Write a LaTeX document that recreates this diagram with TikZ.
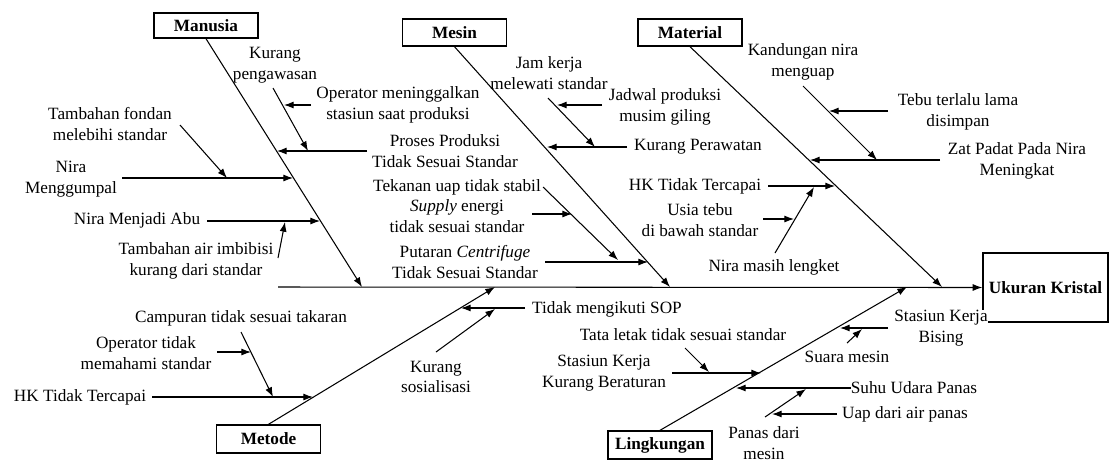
\documentclass[tikz,border=0pt]{standalone}
\usepackage{fontspec}
\setmainfont{Liberation Serif}
\usetikzlibrary{calc}
\usetikzlibrary{arrows.meta}

\tikzset{
    teks/.style={align=center, inner sep=0pt, font=\fontsize{9.8}{11.7}\selectfont},
    kategori/.style={draw, line width=0.8pt, minimum width=2.08cm, minimum height=0.54cm, inner sep=0pt, font=\fontsize{9.8}{11.7}\selectfont\bfseries},
    panah/.style={-{Latex[length=5.5pt,width=4pt]}, line width=0.6pt}
}

\begin{document}
\begin{tikzpicture}[x=0.02cm, y=-0.02cm]
    \useasboundingbox (0,0) rectangle (1115,461);

    % kotak akibat dan kotak kategori
    \node[kategori, minimum width=2.5cm, minimum height=1.38cm] (ukuran) at (1045.5,287.5) {Ukuran Kristal};
    \node[kategori, minimum height=0.5cm] (manusia) at (206,25.5) {Manusia};
    \node[kategori] (mesin) at (454.5,32.5) {Mesin};
    \node[kategori] (material) at (690,32.5) {Material};
    \node[kategori, minimum height=0.56cm] (metode) at (268.5,439) {Metode};
    \node[kategori, minimum height=0.56cm] (lingkungan) at (660,445) {Lingkungan};

    % titik-titik tulang utama
    \coordinate (ekor) at (278,287);
    \coordinate (ujungManusia) at (362,287);
    \coordinate (ujungMesin) at (670,287);
    \coordinate (ujungMaterial) at (942,287);
    \coordinate (ujungMetode) at (495,287);
    \coordinate (ujungLingkungan) at (907,287);

    % pembuatan tulang utama
    \draw[panah] (ekor) -- (ukuran.west);
    \draw[panah] (manusia.south) -- (ujungManusia);
    \draw[panah] (mesin.south) -- (ujungMesin);
    \draw[panah] (material.south) -- (ujungMaterial);
    \draw[panah] (metode.north) -- (ujungMetode);
    \draw[panah] (lingkungan.north) -- (ujungLingkungan);

    % sebab-sebab manusia
    \node[teks] (pengawasan) at (275,65) {Kurang\\pengawasan};
    \node[teks] (meninggalkan) at (398,105) {Operator meninggalkan\\stasiun saat produksi};
    \node[teks] (fondan) at (110,124) {Tambahan fondan\\melebihi standar};
    \node[teks] (menggumpal) at (71,179) {Nira\\Menggumpal};
    \node[teks] (abu) at (137,220) {Nira Menjadi Abu};
    \node[teks] (imbibisi) at (196,261) {Tambahan air imbibisi\\kurang dari standar};
    \node[teks] (proses) at (445,151) {Proses Produksi\\Tidak Sesuai Standar};
    \coordinate (prosesA) at (367,151);       \coordinate (prosesB) at (277,151);
    \coordinate (pengawasanA) at (273,88);    \coordinate (pengawasanB) at (308,151);
    \coordinate (meninggalkanA) at (311,105); \coordinate (meninggalkanB) at (284,105);
    \coordinate (fondanA) at (180,125);       \coordinate (fondanB) at (227,178);
    \coordinate (menggumpalA) at (122,178);   \coordinate (menggumpalB) at (293,178);
    \coordinate (abuA) at (207,221);          \coordinate (abuB) at (320,221);
    \coordinate (imbibisiA) at (278,258);     \coordinate (imbibisiB) at (285,222);

    % sebab-sebab mesin
    \node[teks] (jamkerja) at (549,73) {Jam kerja\\melewati standar};
    \node[teks] (jadwal) at (665,107) {Jadwal produksi\\musim giling};
    \node[teks] (perawatan) at (698,147) {Kurang Perawatan};
    \node[teks] (tekanan) at (457,206) {Tekanan uap tidak stabil\\\textit{Supply} energi\\tidak sesuai standar};
    \node[teks] (putaran) at (465,262) {Putaran \textit{Centrifuge}\\Tidak Sesuai Standar};
    \coordinate (perawatanA) at (627,147);    \coordinate (perawatanB) at (547,147);
    \coordinate (jamkerjaA) at (548,98);      \coordinate (jamkerjaB) at (595,147);
    \coordinate (jadwalA) at (602,105);       \coordinate (jadwalB) at (557,105);
    \coordinate (tekananA) at (543,187);      \coordinate (tekananB) at (618,260);
    \coordinate (supplyA) at (532,214);       \coordinate (supplyB) at (572,214);
    \coordinate (putaranA) at (545,262);      \coordinate (putaranB) at (648,262);

    % sebab-sebab material
    \node[teks] (kandungan) at (803,62) {Kandungan nira\\menguap};
    \node[teks] (tebu) at (958,112) {Tebu terlalu lama\\disimpan};
    \node[teks] (zatpadat) at (1017,161) {Zat Padat Pada Nira\\Meningkat};
    \node[teks] (hkMaterial) at (695,186) {HK Tidak Tercapai};
    \node[teks] (usia) at (700,220) {Usia tebu\\di bawah standar};
    \node[teks] (lengket) at (774,267) {Nira masih lengket};
    \coordinate (zatpadatA) at (940,160);     \coordinate (zatpadatB) at (810,160);
    \coordinate (kandunganA) at (803,86);     \coordinate (kandunganB) at (877,160);
    \coordinate (tebuA) at (888,111);         \coordinate (tebuB) at (829,111);
    \coordinate (hkMaterialA) at (768,186);   \coordinate (hkMaterialB) at (835,186);
    \coordinate (lengketA) at (775,253);      \coordinate (lengketB) at (814,187);
    \coordinate (usiaA) at (763,219);         \coordinate (usiaB) at (794,219);

    % sebab-sebab metode
    \node[teks] (sop) at (607,309) {Tidak mengikuti SOP};
    \node[teks] (sosialisasi) at (436,377) {Kurang\\sosialisasi};
    \node[teks] (campuran) at (241,318) {Campuran tidak sesuai takaran};
    \node[teks] (opTidak) at (146,353) {Operator tidak\\memahami standar};
    \node[teks] (hkMetode) at (80,397) {HK Tidak Tercapai};
    \coordinate (sopA) at (525,308);          \coordinate (sopB) at (461,308);
    \coordinate (sosialisasiA) at (436,352);  \coordinate (sosialisasiB) at (495,309);
    \coordinate (hkMetodeA) at (152,397);     \coordinate (hkMetodeB) at (313,397);
    \coordinate (campuranA) at (241,332);     \coordinate (campuranB) at (273,397);
    \coordinate (opTidakA) at (217,352);      \coordinate (opTidakB) at (251,352);

    % sebab-sebab lingkungan
    \node[teks, fill=white] (bising) at (941,328) {Stasiun Kerja\\Bising};
    \node[teks] (suara) at (847,357) {Suara mesin};
    \node[teks] (tataletak) at (683,335) {Tata letak tidak sesuai standar};
    \node[teks] (beraturan) at (604,373) {Stasiun Kerja\\Kurang Beraturan};
    \node[teks] (suhu) at (914,388) {Suhu Udara Panas};
    \node[teks] (uap) at (905,414) {Uap dari air panas};
    \node[teks] (panas) at (764,443) {Panas dari\\mesin};
    \coordinate (bisingA) at (888,328);       \coordinate (bisingB) at (840,328);
    \coordinate (suaraA) at (847,343);        \coordinate (suaraB) at (862,329);
    \coordinate (beraturanA) at (672,373);    \coordinate (beraturanB) at (761,373);
    \coordinate (tataletakA) at (685,348);    \coordinate (tataletakB) at (709,372);
    \coordinate (suhuA) at (851,388);         \coordinate (suhuB) at (736,388);
    \coordinate (panasA) at (765,417);        \coordinate (panasB) at (806,389);
    \coordinate (uapA) at (837,414);          \coordinate (uapB) at (772,414);

    % pembuatan panah sebab
    \foreach \s in {proses, pengawasan, meninggalkan, fondan, menggumpal, abu, imbibisi,
                    perawatan, jamkerja, jadwal, tekanan, supply, putaran,
                    zatpadat, kandungan, tebu, hkMaterial, lengket, usia,
                    sop, sosialisasi, hkMetode, campuran, opTidak,
                    bising, suara, beraturan, tataletak, suhu, panas, uap}
        \draw[panah] (\s A) -- (\s B);
\end{tikzpicture}
\end{document}
